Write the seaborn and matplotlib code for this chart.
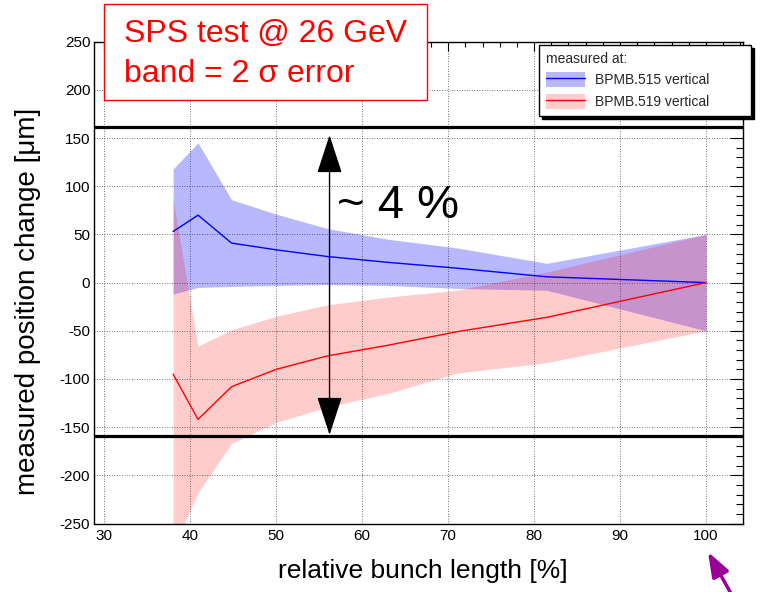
import matplotlib
matplotlib.use("Agg")
import matplotlib.pyplot as plt
from matplotlib.patches import Patch, Rectangle, FancyArrowPatch
from matplotlib.lines import Line2D
from matplotlib.legend_handler import HandlerTuple
from matplotlib.ticker import MultipleLocator
import pandas as pd
import seaborn as sns

# Relative bunch length [%] at each measurement
bunch_length = [38.0, 40.9, 44.8, 50.0, 56.0, 63.0, 71.0, 81.5, 100.0]
# Measured vertical position change [um] and 2-sigma band half-widths
bpm515 = [53, 70, 41, 34, 27, 21, 15, 6, 0]
bpm515_err = [65, 75, 45, 37, 29, 24, 21, 14, 50]
bpm519 = [-95, -142, -108, -90, -76, -65, -51, -36, 0]
bpm519_err = [181, 76, 59, 55, 53, 50, 43, 47, 50]
monitor_labels = ["BPMB.515 vertical", "BPMB.519 vertical"]
monitor_colors = ["#0000ff", "#ff0000"]
band_alpha = [0.28, 0.20]
# Overall spread markers
limit_levels = [161.5, -159.0]
spread_x = 56.2
spread_tips = [153.0, -158.0]
spread_label = "~ 4 %"
title_lines = ["SPS test @ 26 GeV", "band = 2 \u03c3 error"]
x_ticks = [30, 40, 50, 60, 70, 80, 90, 100]
y_ticks = [-250, -200, -150, -100, -50, 0, 50, 100, 150, 200, 250]

sns.set_theme(style="white")
plt.rcParams["font.family"] = ["Liberation Sans", "DejaVu Sans"]
plt.rcParams["axes.unicode_minus"] = False

n = len(bunch_length)
df = pd.DataFrame({
    "length": bunch_length * 2,
    "shift": bpm515 + bpm519,
    "err": bpm515_err + bpm519_err,
    "monitor": [monitor_labels[0]] * n + [monitor_labels[1]] * n,
})

fig = plt.figure(figsize=(7.6, 5.92), dpi=100)
fig.patch.set_facecolor("white")
ax = fig.add_axes([0.1243, 0.1157, 0.977 - 0.1243, 0.9296 - 0.1157])

# 2-sigma bands
for lab, col, a in zip(monitor_labels, monitor_colors, band_alpha):
    sub = df[df["monitor"] == lab]
    ax.fill_between(sub["length"], sub["shift"] - sub["err"], sub["shift"] + sub["err"],
                    color=col, alpha=a, linewidth=0, zorder=1)

# Central values
sns.lineplot(data=df, x="length", y="shift", hue="monitor",
             palette=dict(zip(monitor_labels, monitor_colors)),
             estimator=None, sort=False, linewidth=1.0, legend=False, ax=ax, zorder=3)

# Spread limits and arrow
for lvl in limit_levels:
    ax.axhline(lvl, color="black", linewidth=2.3, zorder=4)
ax.annotate("", xy=(spread_x, spread_tips[1]), xytext=(spread_x, spread_tips[0]),
            arrowprops=dict(arrowstyle="<|-|>,head_length=2.45,head_width=0.8",
                            color="black", lw=1.0, shrinkA=0, shrinkB=0,
                            mutation_scale=10), zorder=5)
ax.text(57.1, 67, spread_label, fontsize=34, color="black", va="baseline", ha="left", zorder=5)

# Axes
ax.set_xlim(28.85, 104.25)
ax.set_ylim(-250, 250)
ax.set_xticks(x_ticks)
ax.set_yticks(y_ticks)
ax.xaxis.set_minor_locator(MultipleLocator(2))
ax.yaxis.set_minor_locator(MultipleLocator(10))
ax.tick_params(axis="both", which="both", direction="in", top=True, right=True,
               colors="black", labelsize=11, width=0.8)
ax.tick_params(axis="x", which="major", length=6.5, pad=4)
ax.tick_params(axis="x", which="minor", length=3.6)
ax.tick_params(axis="y", which="major", length=9.4, pad=3)
ax.tick_params(axis="y", which="minor", length=5)
ax.grid(True, which="major", linestyle=(0, (1, 2)), color="#444444", linewidth=0.6)
for sp in ax.spines.values():
    sp.set_color("black")
    sp.set_linewidth(1.0)

ax.set_xlabel("relative bunch length [%]", fontsize=19, color="black")
ax.xaxis.set_label_coords(0.507, -0.099)
ax.set_ylabel("measured position change [\u03bcm]", fontsize=20, color="black")
ax.yaxis.set_label_coords(-0.103, 0.46)
ax.yaxis.label.set_va("center")
ax.xaxis.label.set_va("center")

# Legend
handles = [(Patch(facecolor=c, alpha=a, edgecolor="none"), Line2D([], [], color=c, lw=1.0))
           for c, a in zip(monitor_colors, band_alpha)]
leg = ax.legend(handles, monitor_labels, title="measured at:",
                loc="upper left",
                bbox_to_anchor=(539 / 760, 1 - 115 / 592, 212 / 760, 70 / 592),
                bbox_transform=fig.transFigure, mode="expand", borderaxespad=0,
                fontsize=10, title_fontsize=10, alignment="left",
                frameon=True, fancybox=False, edgecolor="black", framealpha=1,
                shadow={"color": "black", "alpha": 1},
                handlelength=2.8, handleheight=1.3, handletextpad=0.7,
                labelspacing=0.45, borderpad=0.5,
                handler_map={tuple: HandlerTuple(ndivide=1)})
leg.get_frame().set_linewidth(1.0)
leg.set_zorder(10)

# Title box
fig.add_artist(Rectangle((104 / 760, 1 - 100 / 592), 323 / 760, 96 / 592,
                         transform=fig.transFigure, facecolor="white",
                         edgecolor="#ff0000", linewidth=1.0, zorder=20))
fig.text(124 / 760, 1 - 42 / 592, title_lines[0], color="#ff0000", fontsize=23,
         va="baseline", ha="left", zorder=21)
fig.text(124 / 760, 1 - 82 / 592, title_lines[1], color="#ff0000", fontsize=23,
         va="baseline", ha="left", zorder=21)

# Pointer in the lower right corner
fig.add_artist(FancyArrowPatch(
    posA=(734.5 / 760, 1 - 600 / 592), posB=(708 / 760, 1 - 552 / 592),
    transform=fig.transFigure, arrowstyle="-|>,head_length=1.5,head_width=0.55",
    mutation_scale=10, color="#990099", lw=2.5, shrinkA=0, shrinkB=0, zorder=30))

fig.savefig("out.png", dpi=100)
